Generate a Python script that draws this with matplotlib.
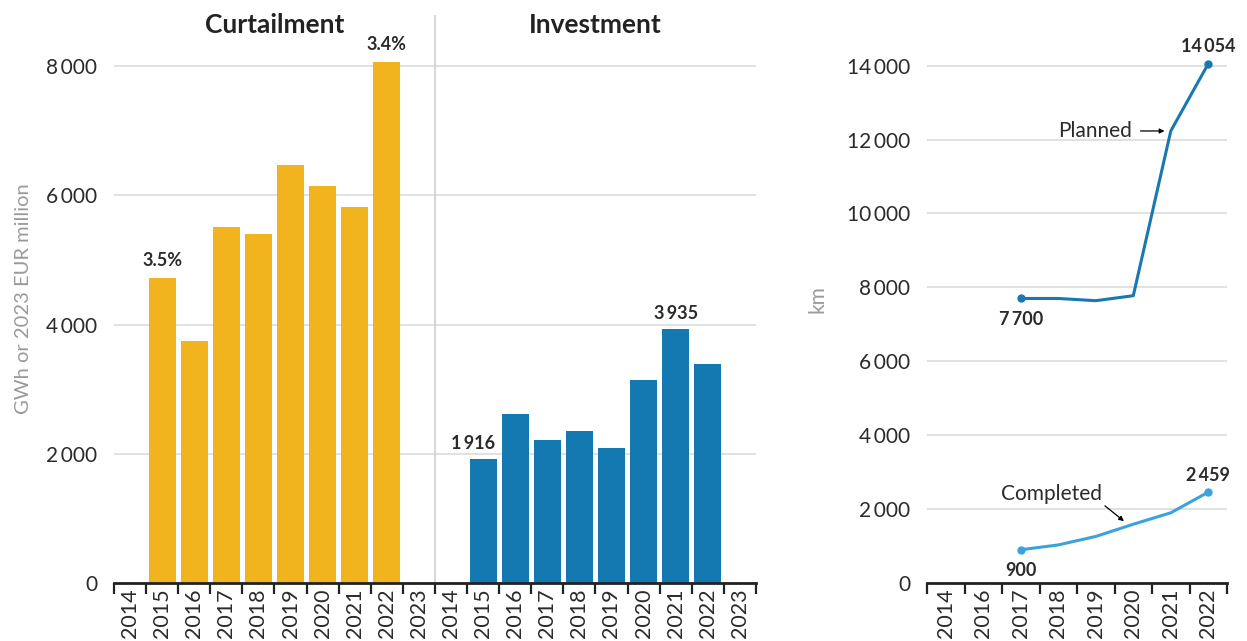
import numpy as np
import matplotlib
matplotlib.use("Agg")
import matplotlib.pyplot as plt

plt.rcParams["font.family"] = ["Lato", "DejaVu Sans"]

# ---- data ----
years = ["2014", "2015", "2016", "2017", "2018", "2019", "2020", "2021", "2022", "2023"]
curtailment = [np.nan, 4716, 3742, 5505, 5397, 6464, 6139, 5814, 8056, np.nan]
investment = [np.nan, 1916, 2613, 2211, 2350, 2088, 3139, 3935, 3386, np.nan]

km_years = ["2014", "2016", "2017", "2018", "2019", "2020", "2021", "2022"]
planned = [np.nan, np.nan, 7700, 7700, 7640, 7775, 12233, 14054]
completed = [np.nan, np.nan, 900, 1030, 1260, 1590, 1900, 2459]

YELLOW = "#F2B41E"
BLUE = "#1479B1"
PLAN = "#1A78B0"
DONE = "#3AA3DD"
GRID = "#dcdcdc"
TXT = "#2b2b2b"
THIN = "\u2009"


def fmt(v):
    s = f"{int(v):,}"
    return s.replace(",", THIN)


fig = plt.figure(figsize=(12.47, 6.41), dpi=100)
ax = fig.add_axes([0.0914, 0.0905, 0.5148, 0.886])
ax2 = fig.add_axes([0.7434, 0.0905, 0.2406, 0.886])

# ---- left panel: bars ----
n = len(years)
x_c = np.arange(n)
x_i = np.arange(n) + n
ax.bar(x_c, curtailment, width=0.84, color=YELLOW, zorder=3)
ax.bar(x_i, investment, width=0.84, color=BLUE, zorder=3)
ax.set_xlim(-0.5, 2 * n - 0.5)
ax.set_ylim(0, 8790)
ax.set_yticks([0, 2000, 4000, 6000, 8000])
ax.set_yticklabels([fmt(v) for v in [0, 2000, 4000, 6000, 8000]])
ax.axvline(n - 0.5, color="#cfcfcf", lw=1.2, zorder=1)

lab = dict(textcoords="offset points", ha="center", va="bottom",
           fontsize=13, fontweight="bold", color=TXT)
ax.annotate("3.5%", (x_c[1], curtailment[1]), xytext=(0, 7), **lab)
ax.annotate("3.4%", (x_c[8], curtailment[8]), xytext=(0, 7), **lab)
ax.annotate(fmt(investment[1]), (x_i[1], investment[1]), xytext=(-7, 5), **lab)
ax.annotate(fmt(investment[7]), (x_i[7], investment[7]), xytext=(0, 5), **lab)

ax.text((n - 1) / 2, 0.982, "Curtailment", transform=ax.get_xaxis_transform(),
        ha="center", va="center", fontsize=19, fontweight="bold", color="#222222")
ax.text(n + (n - 1) / 2, 0.982, "Investment", transform=ax.get_xaxis_transform(),
        ha="center", va="center", fontsize=19, fontweight="bold", color="#222222")
ax.set_ylabel("GWh or 2023 EUR million", fontsize=14.5, color="#9a9a9a", labelpad=10)

# ---- right panel: lines ----
xk = np.arange(len(km_years))
ax2.plot(xk, planned, color=PLAN, lw=2.2, zorder=3)
ax2.plot(xk, completed, color=DONE, lw=2.2, zorder=3)
for ser, col in [(planned, PLAN), (completed, DONE)]:
    ax2.plot([xk[2], xk[7]], [ser[2], ser[7]], "o", color=col, ms=5, zorder=4)
ax2.set_xlim(-0.5, len(km_years) - 0.5)
ax2.set_ylim(0, 15370)
ax2.set_yticks(range(0, 14001, 2000))
ax2.set_yticklabels([fmt(v) for v in range(0, 14001, 2000)])
ax2.set_ylabel("km", fontsize=15, color="#9a9a9a", labelpad=14)

ax2.annotate(fmt(planned[7]), (xk[7], planned[7]), xytext=(0, 6), **lab)
ax2.annotate(fmt(completed[7]), (xk[7], completed[7]), xytext=(0, 6), **lab)
lab_below = dict(lab, va="top")
ax2.annotate(fmt(planned[2]), (xk[2], planned[2]), xytext=(0, -9), **lab_below)
ax2.annotate(fmt(completed[2]), (xk[2], completed[2]), xytext=(0, -9), **lab_below)
ax2.annotate("Planned", xy=(5.87, 12233), xytext=(4.97, 12233), ha="right", va="center",
             fontsize=15, color=TXT,
             arrowprops=dict(arrowstyle="-|>", color="black", lw=0.9, mutation_scale=7,
                             shrinkA=4, shrinkB=1))
ax2.annotate("Completed", xy=(4.78, 1650), xytext=(4.17, 2420), ha="right", va="center",
             fontsize=15, color=TXT,
             arrowprops=dict(arrowstyle="-|>", color="black", lw=0.9, mutation_scale=7,
                             shrinkA=0, shrinkB=1, relpos=(1.0, 0.0)))

# ---- common styling ----
for a, labs in [(ax, years + years), (ax2, km_years)]:
    m = len(labs)
    for s in ["top", "right", "left"]:
        a.spines[s].set_visible(False)
    a.spines["bottom"].set_color("#222222")
    a.spines["bottom"].set_linewidth(2)
    a.spines["bottom"].set_zorder(5)
    a.grid(axis="y", color=GRID, lw=1.2, zorder=0)
    a.set_axisbelow(True)
    a.set_xticks(np.arange(m + 1) - 0.5)
    a.set_xticklabels([])
    a.set_xticks(np.arange(m), minor=True)
    a.set_xticklabels(labs, minor=True, rotation=90, fontsize=15.5, color=TXT)
    a.tick_params(axis="x", which="major", length=8, width=1.6, color="#222222")
    a.tick_params(axis="x", which="minor", length=0, pad=4)
    a.tick_params(axis="y", length=0, labelsize=15, labelcolor=TXT, pad=12)

fig.savefig("out.png", dpi=100)
